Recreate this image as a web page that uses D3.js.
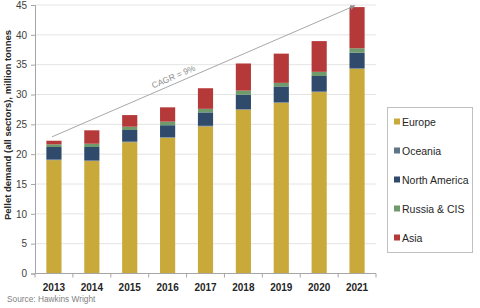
<!DOCTYPE html>
<html><head><meta charset="utf-8">
<script src="https://d3js.org/d3.v7.min.js"></script>
<style>
body{margin:0;background:#fff;}
text{font-family:"Liberation Sans",Arial,sans-serif;}
</style>
</head><body>
<svg id="chart" width="480" height="308"></svg>
<script>
// data (million tonnes)
var years = ["2013","2014","2015","2016","2017","2018","2019","2020","2021"];
var europe = [19.0, 18.85, 22.0, 22.75, 24.65, 27.45, 28.6, 30.4, 34.3];
var oceania = [0.1, 0.1, 0.1, 0.1, 0.1, 0.1, 0.1, 0.1, 0.1];
var northAmerica = [2.1, 2.25, 1.95, 2.0, 2.25, 2.4, 2.65, 2.6, 2.6];
var russiaCis = [0.45, 0.55, 0.55, 0.6, 0.6, 0.7, 0.6, 0.7, 0.75];
var asia = [0.6, 2.25, 1.95, 2.4, 3.45, 4.55, 4.9, 5.15, 6.9];
var seriesNames = ["Europe","Oceania","North America","Russia & CIS","Asia"];
var yTicks = [0,5,10,15,20,25,30,35,40,45];
var cagrStart = 22.9, cagrEnd = 44.9;

var colors = {"Europe":"#c9a93a","Oceania":"#5f7588","North America":"#2f4a6b","Russia & CIS":"#6e9a6c","Asia":"#b6393a"};

var svg = d3.select("#chart");
var m = {left:35, right:104, top:5, bottom:34.5};
var W = 480, H = 308;

var x = d3.scaleBand().domain(years).range([m.left, W - m.right]).paddingInner(0.6).paddingOuter(0.3);
var y = d3.scaleLinear().domain([0,45]).range([H - m.bottom, m.top]);

var rows = years.map(function(yr,i){
  return {year:yr, "Europe":europe[i], "Oceania":oceania[i], "North America":northAmerica[i],
          "Russia & CIS":russiaCis[i], "Asia":asia[i]};
});
var stack = d3.stack().keys(seriesNames)(rows);

// gridlines
svg.append("g").selectAll("line").data(yTicks.slice(1)).enter().append("line")
  .attr("x1", m.left).attr("x2", W - m.right)
  .attr("y1", function(d){return y(d);}).attr("y2", function(d){return y(d);})
  .style("stroke","#e4e4e4").style("stroke-width",1);

// bars
svg.append("g").selectAll("g").data(stack).enter().append("g")
  .attr("fill", function(s){return colors[s.key];})
  .selectAll("rect").data(function(s){return s;}).enter().append("rect")
  .attr("x", function(d){return x(d.data.year);})
  .attr("width", x.bandwidth())
  .attr("y", function(d){return y(d[1]);})
  .attr("height", function(d){return y(d[0]) - y(d[1]);});

// y axis
var yAxis = svg.append("g").attr("transform","translate("+m.left+",0)")
  .call(d3.axisLeft(y).tickValues(yTicks).tickSize(4).tickPadding(4));
yAxis.select(".domain").attr("stroke","#a6a6a6");
yAxis.selectAll(".tick line").attr("stroke","#a6a6a6");
yAxis.selectAll("text").style("font-size","10px").attr("fill","#404040");

// x axis with ticks between categories
var xg = svg.append("g").attr("transform","translate(0,"+y(0)+")");
xg.append("line").attr("x1", m.left).attr("x2", W - m.right).attr("stroke","#a6a6a6");
xg.selectAll("line.tk").data(d3.range(years.length + 1)).enter().append("line").attr("class","tk")
  .attr("x1", function(i){return m.left + i*(W - m.right - m.left)/years.length;})
  .attr("x2", function(i){return m.left + i*(W - m.right - m.left)/years.length;})
  .attr("y1",0).attr("y2",4).attr("stroke","#a6a6a6");
xg.selectAll("text").data(years).enter().append("text")
  .attr("x", function(d){return x(d) + x.bandwidth()/2;})
  .attr("y", 17).attr("text-anchor","middle")
  .style("font-size","10px").style("font-weight","bold").attr("fill","#262626")
  .text(function(d){return d;});

// y title
svg.append("text")
  .attr("transform","translate(11,"+125+") rotate(-90)")
  .attr("text-anchor","middle")
  .style("font-size","9.5px").style("font-weight","bold").attr("fill","#262626")
  .text("Pellet demand (all sectors), million tonnes");

// CAGR line
var x0 = x(years[0]) + x.bandwidth()/2 - 2, x1 = x(years[years.length-1]) + x.bandwidth()/2 - 2;
var ly0 = y(cagrStart), ly1 = y(cagrEnd);
svg.append("defs").append("marker").attr("id","arr")
  .attr("viewBox","0 -5 10 10").attr("refX",10).attr("refY",0)
  .attr("markerWidth",5).attr("markerHeight",5).attr("orient","auto")
  .append("path").attr("d","M0,-5L10,0L0,5").attr("fill","#909090");
svg.append("line").attr("x1",x0).attr("y1",ly0).attr("x2",x1).attr("y2",ly1)
  .attr("stroke","#a8a8a8").attr("stroke-width",1).attr("marker-end","url(#arr)");
var ang = Math.atan2(ly1 - ly0, x1 - x0) * 180 / Math.PI;
var lx = x0 + (x1 - x0)*0.41, lyy = ly0 + (ly1 - ly0)*0.41;
svg.append("text")
  .attr("transform","translate("+lx+","+lyy+") rotate("+ang+") translate(0,-4)")
  .attr("text-anchor","middle")
  .style("font-size","8.5px").attr("fill","#8c8c8c")
  .text("CAGR = 9%");

// legend
var lg = svg.append("g");
lg.append("rect").attr("x",387.5).attr("y",107.5).attr("width",85).attr("height",145)
  .attr("fill","#fff").attr("stroke","#c0c0c0");
var li = lg.selectAll("g").data(seriesNames).enter().append("g")
  .attr("transform", function(d,i){return "translate(394,"+(122 + i*29)+")";});
li.append("rect").attr("x",0).attr("y",-3.5).attr("width",6).attr("height",6)
  .attr("fill", function(d){return colors[d];});
li.append("text").attr("x",8).attr("y",3.8).style("font-size","10.5px").attr("fill","#262626")
  .text(function(d){return d;});

// source
svg.append("text").attr("x",7).attr("y",302).style("font-size","8.3px").attr("fill","#7f7f7f")
  .text("Source: Hawkins Wright");
</script>
</body></html>
